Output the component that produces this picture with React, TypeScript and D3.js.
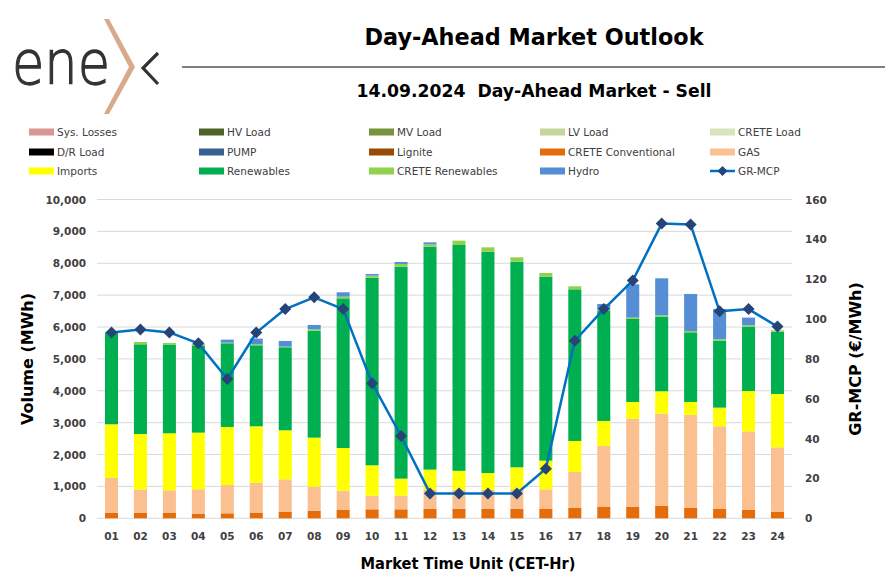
import React from "react";
import * as d3 from "d3";

const hours = ["01","02","03","04","05","06","07","08","09","10","11","12","13","14","15","16","17","18","19","20","21","22","23","24"];

const sysLosses = [0,0,0,0,0,0,0,0,0,0,0,0,0,0,0,0,0,0,0,0,0,0,0,0];
const hvLoad = [0,0,0,0,0,0,0,0,0,0,0,0,0,0,0,0,0,0,0,0,0,0,0,0];
const mvLoad = [0,0,0,0,0,0,0,0,0,0,0,0,0,0,0,0,0,0,0,0,0,0,0,0];
const lvLoad = [0,0,0,0,0,0,0,0,0,0,0,0,0,0,0,0,0,0,0,0,0,0,0,0];
const creteLoad = [0,0,0,0,0,0,0,0,0,0,0,0,0,0,0,0,0,0,0,0,0,0,0,0];
const drLoad = [0,0,0,0,0,0,0,0,0,0,0,0,0,0,0,0,0,0,0,0,0,0,0,0];
const pump = [0,0,0,0,0,0,0,0,0,0,0,0,0,0,0,0,0,0,0,0,0,0,0,0];
const lignite = [0,0,0,0,0,0,0,0,0,0,0,0,0,0,0,0,0,0,0,0,0,0,0,0];
const creteConventional = [178,178,167,146,157,178,209,240,261,282,282,293,303,293,293,293,324,355,366,387,334,303,261,209];
const gas = [1087,721,711,764,888,941,1014,753,607,429,429,610,600,600,620,615,1129,1913,2760,2896,2907,2583,2468,2018];
const imports = [1684,1746,1788,1777,1820,1767,1537,1537,1338,951,533,624,587,527,687,901,973,785,523,701,408,585,1265,1673];
const renewables = [2875,2813,2771,2719,2625,2541,2604,3357,4694,5887,6650,6993,7083,6944,6450,5771,4757,3461,2604,2342,2185,2102,2019,1955];
const creteRenewables = [30,73,63,60,20,31,21,42,53,63,84,73,136,136,136,115,94,42,42,42,42,42,42,42];
const hydro = [0,0,0,0,94,178,178,136,136,52,62,63,0,0,0,0,0,167,1045,1160,1161,951,240,0];
const grMcp = [93.3,94.7,93.3,87.8,69.9,93.2,105,110.9,105,67.8,41.3,12.5,12.5,12.5,12.5,24.9,89.1,105,119.3,147.9,147.4,103.9,105,96.2];

const leftTicks = [0,1000,2000,3000,4000,5000,6000,7000,8000,9000,10000];
const rightTicks = [0,20,40,60,80,100,120,140,160];

const series = [
  { key: "Sys. Losses", values: sysLosses, color: "#D99694" },
  { key: "HV Load", values: hvLoad, color: "#4F6228" },
  { key: "MV Load", values: mvLoad, color: "#77933C" },
  { key: "LV Load", values: lvLoad, color: "#C3D69B" },
  { key: "CRETE Load", values: creteLoad, color: "#D7E4BD" },
  { key: "D/R Load", values: drLoad, color: "#000000" },
  { key: "PUMP", values: pump, color: "#376092" },
  { key: "Lignite", values: lignite, color: "#984807" },
  { key: "CRETE Conventional", values: creteConventional, color: "#E46C0A" },
  { key: "GAS", values: gas, color: "#FAC090" },
  { key: "Imports", values: imports, color: "#FFFF00" },
  { key: "Renewables", values: renewables, color: "#00B050" },
  { key: "CRETE Renewables", values: creteRenewables, color: "#92D050" },
  { key: "Hydro", values: hydro, color: "#558ED5" },
];

const stackOrder = ["CRETE Conventional","Lignite","GAS","Imports","Renewables","CRETE Renewables","Hydro","PUMP","D/R Load","Sys. Losses","HV Load","MV Load","LV Load","CRETE Load"];

const FONT = "'DejaVu Sans', sans-serif";
const TICK = "#404040";

export default function App() {
  const W = 890, H = 584;
  const plotL = 97, plotR = 792, plotT = 199.5, plotB = 518.3;

  const x = d3.scaleBand<string>().domain(hours).range([plotL, plotR]).paddingInner(0.55).paddingOuter(0.275);
  const yL = d3.scaleLinear().domain([0, 10000]).range([plotB, plotT]);
  const yR = d3.scaleLinear().domain([0, 160]).range([plotB, plotT]);

  const table = hours.map((h, i) => {
    const row: any = { hour: h };
    series.forEach(s => { row[s.key] = s.values[i]; });
    return row;
  });
  const stacked = d3.stack<any>().keys(stackOrder)(table);
  const colorOf = (k: string) => series.find(s => s.key === k)!.color;

  const line = d3.line<number>()
    .x((_, i) => (x(hours[i]) as number) + x.bandwidth() / 2)
    .y(d => yR(d));

  const legendItems = [...series.map(s => ({ key: s.key, color: s.color, line: false })), { key: "GR-MCP", color: "#0070C0", line: true }];
  const legendCols = [29, 199, 369, 540, 710];
  const legendRows = [132, 152, 171];

  const diamond = (cx: number, cy: number, r: number) => `M${cx},${cy - r}L${cx + r},${cy}L${cx},${cy + r}L${cx - r},${cy}Z`;

  return (
    <div style={{ position: "absolute", left: 0, top: 0 }}>
      <svg width={W} height={H} style={{ display: "block", background: "#fff" }}>
        {/* Logo */}
        <text x={12} y={84} fontFamily={FONT} fontWeight={200} fontSize={61} fill="#333" stroke="#333" strokeWidth={1.3} textLength={98} lengthAdjust="spacingAndGlyphs">ene</text>
        <path d="M104,19 L109,19 L135,67 L109,114 L104,114 L129,67 Z" fill="#D9A98C" />
        <path d="M158,53 L143,68 L158,84" fill="none" stroke="#333" strokeWidth={3.2} />
        {/* Titles */}
        <text x={534} y={45} textAnchor="middle" fontFamily={FONT} fontWeight="bold" fontSize={22.5} fill="#000" textLength={339} lengthAdjust="spacingAndGlyphs">Day-Ahead Market Outlook</text>
        <line x1={182} x2={885} y1={67} y2={67} stroke="#000" strokeWidth={1.2} />
        <text x={534} y={97} textAnchor="middle" fontFamily={FONT} fontWeight="bold" fontSize={17.3} fill="#000" style={{ whiteSpace: "pre" }} textLength={355} lengthAdjust="spacingAndGlyphs">{"14.09.2024  Day-Ahead Market - Sell"}</text>

        {/* Legend */}
        {legendItems.map((it, i) => {
          const cx = legendCols[i % 5];
          const cy = legendRows[Math.floor(i / 5)];
          return (
            <g key={it.key}>
              {it.line ? (
                <g>
                  <line x1={cx} x2={cx + 25} y1={cy} y2={cy} stroke="#0070C0" strokeWidth={2.5} />
                  <path d={diamond(cx + 12.5, cy, 5)} fill="#264478" />
                </g>
              ) : (
                <rect x={cx} y={cy - 3.5} width={25} height={7} fill={it.color} />
              )}
              <text x={cx + 28} y={cy + 4} fontFamily={FONT} fontSize={10.5} fill={TICK}>{it.key}</text>
            </g>
          );
        })}

        {/* Gridlines */}
        {leftTicks.map(t => (
          <line key={t} x1={plotL} x2={plotR} y1={yL(t)} y2={yL(t)} stroke="#D9D9D9" strokeWidth={1} />
        ))}
        {/* Left tick labels */}
        {leftTicks.map(t => (
          <text key={t} x={86} y={yL(t) + 4} textAnchor="end" fontFamily={FONT} fontWeight="bold" fontSize={10.5} fill={TICK}>{d3.format(",")(t)}</text>
        ))}
        {/* Right tick labels */}
        {rightTicks.map(t => (
          <text key={t} x={805} y={yR(t) + 4} textAnchor="start" fontFamily={FONT} fontWeight="bold" fontSize={10.5} fill={TICK}>{t}</text>
        ))}

        {/* Bars */}
        {stacked.map(layer => (
          <g key={layer.key} fill={colorOf(layer.key)}>
            {layer.map((d, i) => (
              d[1] - d[0] > 0 ? (
                <rect key={i} x={x(hours[i]) as number} width={x.bandwidth()} y={yL(d[1])} height={yL(d[0]) - yL(d[1])} />
              ) : null
            ))}
          </g>
        ))}

        {/* Line */}
        <path d={line(grMcp) || ""} fill="none" stroke="#0070C0" strokeWidth={2.5} strokeLinejoin="round" />
        {grMcp.map((v, i) => (
          <path key={i} d={diamond((x(hours[i]) as number) + x.bandwidth() / 2, yR(v), 6)} fill="#264478" />
        ))}

        {/* X tick labels */}
        {hours.map(h => (
          <text key={h} x={(x(h) as number) + x.bandwidth() / 2} y={540} textAnchor="middle" fontFamily={FONT} fontWeight="bold" fontSize={10.5} fill={TICK}>{h}</text>
        ))}

        {/* Axis titles */}
        <text x={468} y={569} textAnchor="middle" fontFamily={FONT} fontWeight="bold" fontSize={16} fill="#000" textLength={215} lengthAdjust="spacingAndGlyphs">Market Time Unit (CET-Hr)</text>
        <text transform={`translate(33,359) rotate(-90)`} textAnchor="middle" fontFamily={FONT} fontWeight="bold" fontSize={16} fill="#000">Volume (MWh)</text>
        <text transform={`translate(861,359) rotate(-90)`} textAnchor="middle" fontFamily={FONT} fontWeight="bold" fontSize={16} fill="#000">GR-MCP (€/MWh)</text>
      </svg>
    </div>
  );
}
